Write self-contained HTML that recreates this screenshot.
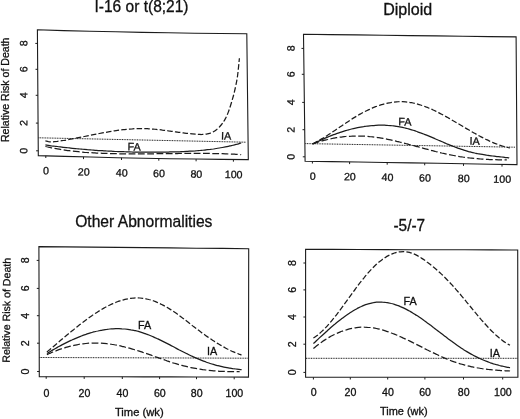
<!DOCTYPE html>
<html><head><meta charset="utf-8"><title>Figure</title>
<style>
html,body{margin:0;padding:0;background:#fff;}
svg{display:block;}
text{font-family:"Liberation Sans",sans-serif;fill:#111;stroke:#111;stroke-width:0.3px;}
</style></head><body>
<svg width="520" height="419" viewBox="0 0 520 419">
<rect x="0" y="0" width="520" height="419" fill="#fff"/>
<g style="opacity:0.999">
<polygon points="37.4,29.8 63.6,30.6 89.8,31.2 115.9,31.8 142.1,32.4 168.3,32.8 194.5,33.2 220.6,33.5 246.8,33.7 248.3,159.6 222.1,159.4 195.8,159.0 169.6,158.7 143.3,158.2 117.1,157.7 90.8,157.0 64.6,156.4 38.3,155.6" fill="none" stroke="#1c1c1c" stroke-width="1.10"/>
<line x1="35.3" y1="43.4" x2="37.5" y2="43.4" stroke="#1c1c1c" stroke-width="1.00"/>
<text x="27.3" y="43.4" font-size="10.6" text-anchor="middle" transform="rotate(-89.00 27.3 43.4)">8</text>
<line x1="35.5" y1="69.3" x2="37.7" y2="69.3" stroke="#1c1c1c" stroke-width="1.00"/>
<text x="27.3" y="69.3" font-size="10.6" text-anchor="middle" transform="rotate(-89.00 27.3 69.3)">6</text>
<line x1="35.7" y1="95.3" x2="37.9" y2="95.3" stroke="#1c1c1c" stroke-width="1.00"/>
<text x="27.3" y="95.3" font-size="10.6" text-anchor="middle" transform="rotate(-89.00 27.3 95.3)">4</text>
<line x1="35.9" y1="123.1" x2="38.1" y2="123.1" stroke="#1c1c1c" stroke-width="1.00"/>
<text x="27.3" y="123.1" font-size="10.6" text-anchor="middle" transform="rotate(-89.00 27.3 123.1)">2</text>
<line x1="36.1" y1="150.8" x2="38.3" y2="150.8" stroke="#1c1c1c" stroke-width="1.00"/>
<text x="27.3" y="150.8" font-size="10.6" text-anchor="middle" transform="rotate(-89.00 27.3 150.8)">0</text>
<line x1="45.8" y1="155.8" x2="45.8" y2="158.0" stroke="#1c1c1c" stroke-width="1.00"/>
<text x="46.0" y="174.4" font-size="10.6" text-anchor="middle" transform="rotate(1.00 46.0 174.4)">0</text>
<line x1="83.5" y1="156.9" x2="83.5" y2="159.1" stroke="#1c1c1c" stroke-width="1.00"/>
<text x="83.7" y="175.5" font-size="10.6" text-anchor="middle" transform="rotate(1.00 83.7 175.5)">20</text>
<line x1="121.5" y1="157.8" x2="121.5" y2="160.0" stroke="#1c1c1c" stroke-width="1.00"/>
<text x="121.7" y="176.4" font-size="10.6" text-anchor="middle" transform="rotate(1.00 121.7 176.4)">40</text>
<line x1="158.8" y1="158.5" x2="158.8" y2="160.7" stroke="#1c1c1c" stroke-width="1.00"/>
<text x="159.0" y="177.1" font-size="10.6" text-anchor="middle" transform="rotate(1.00 159.0 177.1)">60</text>
<line x1="196.1" y1="159.1" x2="196.1" y2="161.3" stroke="#1c1c1c" stroke-width="1.00"/>
<text x="196.3" y="177.7" font-size="10.6" text-anchor="middle" transform="rotate(1.00 196.3 177.7)">80</text>
<line x1="233.4" y1="159.5" x2="233.4" y2="161.7" stroke="#1c1c1c" stroke-width="1.00"/>
<text x="233.6" y="178.1" font-size="10.6" text-anchor="middle" transform="rotate(1.00 233.6 178.1)">100</text>
<text x="8.6" y="89.8" font-size="10.5" text-anchor="middle" transform="rotate(-90.00 8.6 89.8)" textLength="104.5" lengthAdjust="spacingAndGlyphs">Relative Risk of Death</text>
<text x="141.5" y="12.0" font-size="16.0" text-anchor="middle" textLength="94.0" lengthAdjust="spacingAndGlyphs">I-16 or t(8;21)</text>
<line x1="38.5" y1="137.8" x2="246.0" y2="142.2" stroke="#1c1c1c" stroke-width="1.00" stroke-dasharray="1 0.67"/>
<path d="M45.4 140.9 C45.9 141.0 47.4 141.4 48.4 141.6 C49.4 141.7 50.4 141.8 51.4 141.8 C52.4 141.8 53.4 141.8 54.4 141.7 C55.4 141.6 56.4 141.5 57.4 141.4 C58.4 141.2 59.4 141.1 60.4 140.9 C61.4 140.8 62.4 140.6 63.4 140.5 C64.4 140.3 65.4 140.1 66.4 140.0 C67.4 139.8 68.4 139.6 69.4 139.4 C70.4 139.3 71.4 139.1 72.4 138.9 C73.4 138.7 74.4 138.5 75.4 138.3 C76.4 138.1 77.4 137.9 78.4 137.7 C79.4 137.5 80.4 137.3 81.4 137.1 C82.4 136.9 83.4 136.7 84.4 136.5 C85.4 136.3 86.4 136.1 87.4 135.9 C88.4 135.7 89.4 135.5 90.4 135.3 C91.4 135.1 92.4 134.9 93.4 134.7 C94.4 134.5 95.4 134.3 96.4 134.1 C97.4 133.9 98.4 133.7 99.4 133.5 C100.4 133.3 101.4 133.1 102.4 132.9 C103.4 132.7 104.4 132.5 105.4 132.4 C106.4 132.2 107.4 132.0 108.4 131.8 C109.4 131.7 110.4 131.5 111.4 131.3 C112.4 131.2 113.4 131.0 114.4 130.8 C115.4 130.7 116.4 130.6 117.4 130.4 C118.4 130.3 119.4 130.1 120.4 130.0 C121.4 129.9 122.4 129.8 123.4 129.7 C124.4 129.5 125.4 129.4 126.4 129.3 C127.4 129.2 128.4 129.2 129.4 129.1 C130.4 129.0 131.4 128.9 132.4 128.9 C133.4 128.8 134.4 128.7 135.4 128.7 C136.4 128.7 137.4 128.6 138.4 128.6 C139.4 128.6 140.4 128.6 141.4 128.6 C142.4 128.6 143.4 128.6 144.4 128.6 C145.4 128.6 146.4 128.7 147.4 128.7 C148.4 128.8 149.4 128.8 150.4 128.9 C151.4 129.0 152.4 129.0 153.4 129.1 C154.4 129.2 155.4 129.3 156.4 129.4 C157.4 129.5 158.4 129.6 159.4 129.7 C160.4 129.8 161.4 129.9 162.4 130.1 C163.4 130.2 164.4 130.3 165.4 130.5 C166.4 130.6 167.4 130.7 168.4 130.9 C169.4 131.0 170.4 131.1 171.4 131.3 C172.4 131.4 173.4 131.6 174.4 131.7 C175.4 131.8 176.4 132.0 177.4 132.1 C178.4 132.3 179.4 132.4 180.4 132.5 C181.4 132.7 182.4 132.8 183.4 132.9 C184.4 133.1 185.4 133.2 186.4 133.3 C187.4 133.4 188.4 133.5 189.4 133.6 C190.4 133.7 191.4 133.8 192.4 133.9 C193.4 134.0 194.4 134.1 195.4 134.2 C196.4 134.2 197.4 134.3 198.4 134.4 C199.4 134.4 200.4 134.5 201.4 134.5 C202.4 134.4 203.4 134.4 204.4 134.3 C205.4 134.2 206.4 134.1 207.4 133.9 C208.4 133.7 209.4 133.4 210.4 133.1 C211.4 132.7 212.4 132.3 213.4 131.7 C214.4 131.1 215.4 130.5 216.4 129.7 C217.4 128.9 218.4 128.0 219.4 127.0 C220.4 125.9 221.4 124.8 222.4 123.4 C223.4 122.0 224.4 120.5 225.4 118.6 C226.4 116.7 227.4 114.5 228.4 111.9 C229.4 109.2 230.4 106.0 231.4 102.7 C232.4 99.3 233.4 96.2 234.4 91.9 C235.4 87.6 236.6 82.4 237.4 76.8 C238.2 71.2 239.1 61.3 239.4 58.2" fill="none" stroke="#1c1c1c" stroke-width="1.25" stroke-dasharray="5.5 2.2"/>
<path d="M45.4 144.9 C45.9 145.0 47.4 145.2 48.4 145.3 C49.4 145.5 50.4 145.6 51.4 145.8 C52.4 145.9 53.4 146.0 54.4 146.2 C55.4 146.3 56.4 146.4 57.4 146.5 C58.4 146.7 59.4 146.8 60.4 146.9 C61.4 147.0 62.4 147.2 63.4 147.3 C64.4 147.4 65.4 147.5 66.4 147.6 C67.4 147.7 68.4 147.8 69.4 147.9 C70.4 148.1 71.4 148.2 72.4 148.3 C73.4 148.4 74.4 148.5 75.4 148.6 C76.4 148.7 77.4 148.8 78.4 148.9 C79.4 149.0 80.4 149.0 81.4 149.1 C82.4 149.2 83.4 149.3 84.4 149.4 C85.4 149.5 86.4 149.6 87.4 149.7 C88.4 149.7 89.4 149.8 90.4 149.9 C91.4 150.0 92.4 150.0 93.4 150.1 C94.4 150.2 95.4 150.3 96.4 150.3 C97.4 150.4 98.4 150.5 99.4 150.5 C100.4 150.6 101.4 150.7 102.4 150.7 C103.4 150.8 104.4 150.8 105.4 150.9 C106.4 151.0 107.4 151.0 108.4 151.1 C109.4 151.1 110.4 151.2 111.4 151.2 C112.4 151.3 113.4 151.3 114.4 151.4 C115.4 151.4 116.4 151.4 117.4 151.5 C118.4 151.5 119.4 151.6 120.4 151.6 C121.4 151.6 122.4 151.7 123.4 151.7 C124.4 151.7 125.4 151.8 126.4 151.8 C127.4 151.8 128.4 151.9 129.4 151.9 C130.4 151.9 131.4 151.9 132.4 152.0 C133.4 152.0 134.4 152.0 135.4 152.0 C136.4 152.0 137.4 152.1 138.4 152.1 C139.4 152.1 140.4 152.1 141.4 152.1 C142.4 152.1 143.4 152.1 144.4 152.1 C145.4 152.1 146.4 152.1 147.4 152.2 C148.4 152.2 149.4 152.2 150.4 152.2 C151.4 152.2 152.4 152.2 153.4 152.2 C154.4 152.2 155.4 152.1 156.4 152.1 C157.4 152.1 158.4 152.1 159.4 152.1 C160.4 152.1 161.4 152.1 162.4 152.1 C163.4 152.1 164.4 152.1 165.4 152.0 C166.4 152.0 167.4 152.0 168.4 152.0 C169.4 152.0 170.4 151.9 171.4 151.9 C172.4 151.9 173.4 151.9 174.4 151.8 C175.4 151.8 176.4 151.8 177.4 151.8 C178.4 151.7 179.4 151.7 180.4 151.7 C181.4 151.6 182.4 151.6 183.4 151.5 C184.4 151.5 185.4 151.5 186.4 151.4 C187.4 151.4 188.4 151.3 189.4 151.2 C190.4 151.2 191.4 151.1 192.4 151.1 C193.4 151.0 194.4 150.9 195.4 150.9 C196.4 150.8 197.4 150.7 198.4 150.6 C199.4 150.5 200.4 150.5 201.4 150.4 C202.4 150.3 203.4 150.2 204.4 150.1 C205.4 150.0 206.4 149.8 207.4 149.7 C208.4 149.6 209.4 149.5 210.4 149.4 C211.4 149.2 212.4 149.1 213.4 149.0 C214.4 148.8 215.4 148.7 216.4 148.5 C217.4 148.4 218.4 148.2 219.4 148.0 C220.4 147.9 221.4 147.7 222.4 147.5 C223.4 147.3 224.4 147.1 225.4 146.9 C226.4 146.7 227.4 146.5 228.4 146.3 C229.4 146.1 230.4 145.8 231.4 145.6 C232.4 145.4 233.4 145.1 234.4 144.9 C235.4 144.6 236.4 144.3 237.4 144.1 C238.4 143.8 239.8 143.4 240.4 143.2 C241.0 143.0 241.1 143.0 241.2 143.0" fill="none" stroke="#1c1c1c" stroke-width="1.25"/>
<path d="M45.4 146.5 C45.9 146.6 47.4 146.9 48.4 147.2 C49.4 147.4 50.4 147.6 51.4 147.8 C52.4 148.0 53.4 148.2 54.4 148.4 C55.4 148.6 56.4 148.8 57.4 148.9 C58.4 149.1 59.4 149.3 60.4 149.4 C61.4 149.6 62.4 149.8 63.4 149.9 C64.4 150.1 65.4 150.2 66.4 150.3 C67.4 150.5 68.4 150.6 69.4 150.7 C70.4 150.9 71.4 151.0 72.4 151.1 C73.4 151.2 74.4 151.3 75.4 151.4 C76.4 151.5 77.4 151.6 78.4 151.7 C79.4 151.8 80.4 151.9 81.4 152.0 C82.4 152.1 83.4 152.2 84.4 152.3 C85.4 152.3 86.4 152.4 87.4 152.5 C88.4 152.5 89.4 152.6 90.4 152.7 C91.4 152.7 92.4 152.8 93.4 152.9 C94.4 152.9 95.4 153.0 96.4 153.0 C97.4 153.1 98.4 153.1 99.4 153.2 C100.4 153.2 101.4 153.2 102.4 153.3 C103.4 153.3 104.4 153.4 105.4 153.4 C106.4 153.4 107.4 153.5 108.4 153.5 C109.4 153.5 110.4 153.6 111.4 153.6 C112.4 153.6 113.4 153.6 114.4 153.7 C115.4 153.7 116.4 153.7 117.4 153.7 C118.4 153.7 119.4 153.8 120.4 153.8 C121.4 153.8 122.4 153.8 123.4 153.8 C124.4 153.8 125.4 153.8 126.4 153.8 C127.4 153.8 128.4 153.8 129.4 153.9 C130.4 153.9 131.4 153.9 132.4 153.9 C133.4 153.9 134.4 153.9 135.4 153.9 C136.4 153.9 137.4 153.9 138.4 153.9 C139.4 153.9 140.4 153.9 141.4 153.8 C142.4 153.8 143.4 153.8 144.4 153.8 C145.4 153.8 146.4 153.8 147.4 153.8 C148.4 153.8 149.4 153.8 150.4 153.8 C151.4 153.8 152.4 153.8 153.4 153.8 C154.4 153.7 155.4 153.7 156.4 153.7 C157.4 153.7 158.4 153.7 159.4 153.7 C160.4 153.7 161.4 153.7 162.4 153.6 C163.4 153.6 164.4 153.6 165.4 153.6 C166.4 153.6 167.4 153.6 168.4 153.6 C169.4 153.6 170.4 153.5 171.4 153.5 C172.4 153.5 173.4 153.5 174.4 153.5 C175.4 153.5 176.4 153.5 177.4 153.5 C178.4 153.5 179.4 153.4 180.4 153.4 C181.4 153.4 182.4 153.4 183.4 153.4 C184.4 153.4 185.4 153.4 186.4 153.4 C187.4 153.4 188.4 153.4 189.4 153.4 C190.4 153.4 191.4 153.4 192.4 153.4 C193.4 153.4 194.4 153.4 195.4 153.4 C196.4 153.4 197.4 153.4 198.4 153.4 C199.4 153.4 200.4 153.4 201.4 153.4 C202.4 153.4 203.4 153.4 204.4 153.4 C205.4 153.4 206.4 153.4 207.4 153.4 C208.4 153.4 209.4 153.4 210.4 153.5 C211.4 153.5 212.4 153.5 213.4 153.5 C214.4 153.5 215.4 153.6 216.4 153.6 C217.4 153.6 218.4 153.6 219.4 153.6 C220.4 153.7 221.4 153.7 222.4 153.7 C223.4 153.8 224.4 153.8 225.4 153.8 C226.4 153.9 227.4 153.9 228.4 154.0 C229.4 154.0 230.4 154.0 231.4 154.1 C232.4 154.1 233.4 154.2 234.4 154.2 C235.4 154.3 236.4 154.3 237.4 154.4 C238.4 154.4 239.9 154.5 240.4 154.6 C240.9 154.6 240.6 154.6 240.6 154.6" fill="none" stroke="#1c1c1c" stroke-width="1.25" stroke-dasharray="6.8 2.5"/>
<text x="134.1" y="150.4" font-size="10.8" text-anchor="middle" transform="rotate(1.00 134.1 150.4)">FA</text>
<text x="226.2" y="139.5" font-size="10.8" text-anchor="middle" transform="rotate(1.00 226.2 139.5)">IA</text>
<polygon points="303.5,34.3 330.1,34.6 356.6,34.9 383.2,35.3 409.8,35.6 436.4,35.9 463.0,36.2 489.5,36.6 516.1,36.9 517.0,164.6 490.5,164.2 464.0,163.8 437.5,163.3 411.1,162.9 384.6,162.5 358.1,162.0 331.6,161.6 305.1,161.2" fill="none" stroke="#1c1c1c" stroke-width="1.10"/>
<line x1="301.5" y1="48.4" x2="303.7" y2="48.4" stroke="#1c1c1c" stroke-width="1.00"/>
<text x="294.6" y="48.4" font-size="10.6" text-anchor="middle" transform="rotate(-89.10 294.6 48.4)">8</text>
<line x1="301.8" y1="74.3" x2="304.0" y2="74.3" stroke="#1c1c1c" stroke-width="1.00"/>
<text x="294.6" y="74.3" font-size="10.6" text-anchor="middle" transform="rotate(-89.10 294.6 74.3)">6</text>
<line x1="302.2" y1="102.4" x2="304.4" y2="102.4" stroke="#1c1c1c" stroke-width="1.00"/>
<text x="294.6" y="102.4" font-size="10.6" text-anchor="middle" transform="rotate(-89.10 294.6 102.4)">4</text>
<line x1="302.5" y1="129.7" x2="304.7" y2="129.7" stroke="#1c1c1c" stroke-width="1.00"/>
<text x="294.6" y="129.7" font-size="10.6" text-anchor="middle" transform="rotate(-89.10 294.6 129.7)">2</text>
<line x1="302.8" y1="156.8" x2="305.0" y2="156.8" stroke="#1c1c1c" stroke-width="1.00"/>
<text x="294.6" y="156.8" font-size="10.6" text-anchor="middle" transform="rotate(-89.10 294.6 156.8)">0</text>
<line x1="312.4" y1="161.3" x2="312.4" y2="163.5" stroke="#1c1c1c" stroke-width="1.00"/>
<text x="312.6" y="179.7" font-size="10.6" text-anchor="middle" transform="rotate(0.90 312.6 179.7)">0</text>
<line x1="349.6" y1="161.9" x2="349.6" y2="164.1" stroke="#1c1c1c" stroke-width="1.00"/>
<text x="349.8" y="180.3" font-size="10.6" text-anchor="middle" transform="rotate(0.90 349.8 180.3)">20</text>
<line x1="387.2" y1="162.5" x2="387.2" y2="164.7" stroke="#1c1c1c" stroke-width="1.00"/>
<text x="387.4" y="180.9" font-size="10.6" text-anchor="middle" transform="rotate(0.90 387.4 180.9)">40</text>
<line x1="424.7" y1="163.1" x2="424.7" y2="165.3" stroke="#1c1c1c" stroke-width="1.00"/>
<text x="424.9" y="181.5" font-size="10.6" text-anchor="middle" transform="rotate(0.90 424.9 181.5)">60</text>
<line x1="463.5" y1="163.7" x2="463.5" y2="165.9" stroke="#1c1c1c" stroke-width="1.00"/>
<text x="463.7" y="182.1" font-size="10.6" text-anchor="middle" transform="rotate(0.90 463.7 182.1)">80</text>
<line x1="502.0" y1="164.4" x2="502.0" y2="166.6" stroke="#1c1c1c" stroke-width="1.00"/>
<text x="502.2" y="182.8" font-size="10.6" text-anchor="middle" transform="rotate(0.90 502.2 182.8)">100</text>
<text x="407.7" y="15.0" font-size="16.0" text-anchor="middle" textLength="49.0" lengthAdjust="spacingAndGlyphs">Diploid</text>
<line x1="305.3" y1="143.6" x2="515.5" y2="147.2" stroke="#1c1c1c" stroke-width="1.00" stroke-dasharray="1 0.67"/>
<path d="M312.6 144.0 C313.1 143.7 314.6 143.0 315.6 142.4 C316.6 141.9 317.6 141.3 318.6 140.7 C319.6 140.1 320.6 139.5 321.6 138.9 C322.6 138.3 323.6 137.7 324.6 137.1 C325.6 136.5 326.6 135.8 327.6 135.2 C328.6 134.5 329.6 133.9 330.6 133.2 C331.6 132.6 332.6 131.9 333.6 131.2 C334.6 130.6 335.6 129.9 336.6 129.2 C337.6 128.6 338.6 127.9 339.6 127.2 C340.6 126.5 341.6 125.9 342.6 125.2 C343.6 124.5 344.6 123.8 345.6 123.2 C346.6 122.5 347.6 121.9 348.6 121.2 C349.6 120.6 350.6 119.9 351.6 119.3 C352.6 118.6 353.6 118.0 354.6 117.4 C355.6 116.8 356.6 116.2 357.6 115.6 C358.6 115.0 359.6 114.4 360.6 113.9 C361.6 113.3 362.6 112.8 363.6 112.2 C364.6 111.7 365.6 111.2 366.6 110.7 C367.6 110.2 368.6 109.7 369.6 109.3 C370.6 108.8 371.6 108.4 372.6 107.9 C373.6 107.5 374.6 107.1 375.6 106.7 C376.6 106.4 377.6 106.0 378.6 105.7 C379.6 105.3 380.6 105.0 381.6 104.7 C382.6 104.4 383.6 104.1 384.6 103.8 C385.6 103.6 386.6 103.4 387.6 103.1 C388.6 102.9 389.6 102.7 390.6 102.6 C391.6 102.4 392.6 102.3 393.6 102.1 C394.6 102.0 395.6 101.9 396.6 101.8 C397.6 101.8 398.6 101.7 399.6 101.7 C400.6 101.7 401.6 101.7 402.6 101.7 C403.6 101.7 404.6 101.8 405.6 101.9 C406.6 102.0 407.6 102.1 408.6 102.2 C409.6 102.3 410.6 102.5 411.6 102.7 C412.6 102.9 413.6 103.1 414.6 103.3 C415.6 103.6 416.6 103.8 417.6 104.1 C418.6 104.4 419.6 104.7 420.6 105.0 C421.6 105.3 422.6 105.7 423.6 106.0 C424.6 106.4 425.6 106.8 426.6 107.2 C427.6 107.5 428.6 108.0 429.6 108.4 C430.6 108.8 431.6 109.3 432.6 109.7 C433.6 110.2 434.6 110.7 435.6 111.1 C436.6 111.6 437.6 112.1 438.6 112.6 C439.6 113.2 440.6 113.7 441.6 114.2 C442.6 114.7 443.6 115.3 444.6 115.8 C445.6 116.4 446.6 116.9 447.6 117.5 C448.6 118.1 449.6 118.6 450.6 119.2 C451.6 119.8 452.6 120.4 453.6 121.0 C454.6 121.5 455.6 122.1 456.6 122.7 C457.6 123.3 458.6 123.9 459.6 124.5 C460.6 125.1 461.6 125.7 462.6 126.3 C463.6 126.9 464.6 127.5 465.6 128.1 C466.6 128.7 467.6 129.3 468.6 129.8 C469.6 130.4 470.6 131.0 471.6 131.6 C472.6 132.2 473.6 132.7 474.6 133.3 C475.6 133.9 476.6 134.4 477.6 135.0 C478.6 135.5 479.6 136.1 480.6 136.6 C481.6 137.1 482.6 137.6 483.6 138.2 C484.6 138.7 485.6 139.2 486.6 139.7 C487.6 140.1 488.6 140.6 489.6 141.1 C490.6 141.5 491.6 142.0 492.6 142.4 C493.6 142.8 494.6 143.3 495.6 143.6 C496.6 144.0 497.6 144.4 498.6 144.8 C499.6 145.1 500.6 145.5 501.6 145.8 C502.6 146.1 503.6 146.4 504.6 146.7 C505.6 147.0 506.7 147.3 507.6 147.5 C508.5 147.7 509.5 147.9 509.9 148.0" fill="none" stroke="#1c1c1c" stroke-width="1.25" stroke-dasharray="5.5 2.2"/>
<path d="M312.6 144.1 C313.1 143.8 314.6 143.1 315.6 142.6 C316.6 142.1 317.6 141.6 318.6 141.2 C319.6 140.7 320.6 140.2 321.6 139.8 C322.6 139.3 323.6 138.9 324.6 138.4 C325.6 138.0 326.6 137.6 327.6 137.1 C328.6 136.7 329.6 136.3 330.6 135.9 C331.6 135.5 332.6 135.1 333.6 134.7 C334.6 134.4 335.6 134.0 336.6 133.6 C337.6 133.3 338.6 132.9 339.6 132.6 C340.6 132.3 341.6 131.9 342.6 131.6 C343.6 131.3 344.6 131.0 345.6 130.7 C346.6 130.4 347.6 130.1 348.6 129.8 C349.6 129.6 350.6 129.3 351.6 129.0 C352.6 128.8 353.6 128.6 354.6 128.3 C355.6 128.1 356.6 127.9 357.6 127.7 C358.6 127.5 359.6 127.3 360.6 127.1 C361.6 126.9 362.6 126.7 363.6 126.6 C364.6 126.4 365.6 126.3 366.6 126.2 C367.6 126.0 368.6 125.9 369.6 125.8 C370.6 125.7 371.6 125.6 372.6 125.5 C373.6 125.5 374.6 125.4 375.6 125.3 C376.6 125.3 377.6 125.3 378.6 125.2 C379.6 125.2 380.6 125.2 381.6 125.2 C382.6 125.2 383.6 125.2 384.6 125.2 C385.6 125.3 386.6 125.3 387.6 125.4 C388.6 125.4 389.6 125.5 390.6 125.6 C391.6 125.7 392.6 125.8 393.6 125.9 C394.6 126.0 395.6 126.2 396.6 126.3 C397.6 126.5 398.6 126.7 399.6 126.8 C400.6 127.0 401.6 127.2 402.6 127.4 C403.6 127.6 404.6 127.9 405.6 128.1 C406.6 128.4 407.6 128.6 408.6 128.9 C409.6 129.2 410.6 129.5 411.6 129.8 C412.6 130.1 413.6 130.4 414.6 130.7 C415.6 131.1 416.6 131.4 417.6 131.8 C418.6 132.1 419.6 132.5 420.6 132.9 C421.6 133.2 422.6 133.6 423.6 134.0 C424.6 134.4 425.6 134.8 426.6 135.2 C427.6 135.6 428.6 136.0 429.6 136.4 C430.6 136.9 431.6 137.3 432.6 137.7 C433.6 138.1 434.6 138.5 435.6 139.0 C436.6 139.4 437.6 139.8 438.6 140.3 C439.6 140.7 440.6 141.1 441.6 141.5 C442.6 142.0 443.6 142.4 444.6 142.8 C445.6 143.2 446.6 143.7 447.6 144.1 C448.6 144.5 449.6 144.9 450.6 145.3 C451.6 145.7 452.6 146.1 453.6 146.5 C454.6 146.9 455.6 147.3 456.6 147.6 C457.6 148.0 458.6 148.4 459.6 148.7 C460.6 149.1 461.6 149.4 462.6 149.7 C463.6 150.1 464.6 150.4 465.6 150.7 C466.6 151.0 467.6 151.3 468.6 151.6 C469.6 151.8 470.6 152.1 471.6 152.3 C472.6 152.6 473.6 152.8 474.6 153.0 C475.6 153.2 476.6 153.5 477.6 153.7 C478.6 153.8 479.6 154.0 480.6 154.2 C481.6 154.4 482.6 154.6 483.6 154.7 C484.6 154.9 485.6 155.0 486.6 155.2 C487.6 155.3 488.6 155.5 489.6 155.6 C490.6 155.7 491.6 155.9 492.6 156.0 C493.6 156.1 494.6 156.2 495.6 156.3 C496.6 156.5 497.6 156.6 498.6 156.7 C499.6 156.8 500.6 156.9 501.6 157.0 C502.6 157.1 503.6 157.2 504.6 157.3 C505.6 157.5 506.8 157.6 507.6 157.7 C508.4 157.8 508.9 157.8 509.2 157.9" fill="none" stroke="#1c1c1c" stroke-width="1.25"/>
<path d="M312.6 143.8 C313.1 143.6 314.6 143.1 315.6 142.8 C316.6 142.5 317.6 142.2 318.6 141.9 C319.6 141.6 320.6 141.3 321.6 141.0 C322.6 140.7 323.6 140.5 324.6 140.2 C325.6 140.0 326.6 139.7 327.6 139.5 C328.6 139.2 329.6 139.0 330.6 138.8 C331.6 138.6 332.6 138.4 333.6 138.2 C334.6 138.0 335.6 137.9 336.6 137.7 C337.6 137.5 338.6 137.4 339.6 137.2 C340.6 137.1 341.6 137.0 342.6 136.8 C343.6 136.7 344.6 136.6 345.6 136.5 C346.6 136.4 347.6 136.3 348.6 136.3 C349.6 136.2 350.6 136.1 351.6 136.1 C352.6 136.0 353.6 136.0 354.6 136.0 C355.6 136.0 356.6 136.0 357.6 136.0 C358.6 136.0 359.6 136.0 360.6 136.0 C361.6 136.0 362.6 136.1 363.6 136.1 C364.6 136.2 365.6 136.2 366.6 136.3 C367.6 136.4 368.6 136.5 369.6 136.6 C370.6 136.7 371.6 136.8 372.6 136.9 C373.6 137.0 374.6 137.1 375.6 137.3 C376.6 137.4 377.6 137.5 378.6 137.7 C379.6 137.9 380.6 138.0 381.6 138.2 C382.6 138.4 383.6 138.5 384.6 138.7 C385.6 138.9 386.6 139.1 387.6 139.3 C388.6 139.5 389.6 139.7 390.6 139.9 C391.6 140.2 392.6 140.4 393.6 140.6 C394.6 140.8 395.6 141.1 396.6 141.3 C397.6 141.5 398.6 141.8 399.6 142.0 C400.6 142.3 401.6 142.5 402.6 142.8 C403.6 143.0 404.6 143.3 405.6 143.5 C406.6 143.8 407.6 144.0 408.6 144.3 C409.6 144.6 410.6 144.8 411.6 145.1 C412.6 145.4 413.6 145.6 414.6 145.9 C415.6 146.2 416.6 146.4 417.6 146.7 C418.6 147.0 419.6 147.3 420.6 147.5 C421.6 147.8 422.6 148.1 423.6 148.3 C424.6 148.6 425.6 148.9 426.6 149.1 C427.6 149.4 428.6 149.7 429.6 149.9 C430.6 150.2 431.6 150.5 432.6 150.7 C433.6 151.0 434.6 151.2 435.6 151.5 C436.6 151.7 437.6 152.0 438.6 152.2 C439.6 152.5 440.6 152.7 441.6 153.0 C442.6 153.2 443.6 153.4 444.6 153.6 C445.6 153.9 446.6 154.1 447.6 154.3 C448.6 154.5 449.6 154.7 450.6 154.9 C451.6 155.1 452.6 155.3 453.6 155.5 C454.6 155.7 455.6 155.9 456.6 156.1 C457.6 156.2 458.6 156.4 459.6 156.6 C460.6 156.7 461.6 156.9 462.6 157.0 C463.6 157.2 464.6 157.3 465.6 157.4 C466.6 157.6 467.6 157.7 468.6 157.8 C469.6 157.9 470.6 158.1 471.6 158.2 C472.6 158.3 473.6 158.4 474.6 158.5 C475.6 158.6 476.6 158.7 477.6 158.7 C478.6 158.8 479.6 158.9 480.6 159.0 C481.6 159.1 482.6 159.1 483.6 159.2 C484.6 159.3 485.6 159.3 486.6 159.4 C487.6 159.4 488.6 159.5 489.6 159.5 C490.6 159.6 491.6 159.6 492.6 159.6 C493.6 159.7 494.6 159.7 495.6 159.7 C496.6 159.8 497.6 159.8 498.6 159.8 C499.6 159.8 500.6 159.9 501.6 159.9 C502.6 159.9 503.7 159.9 504.6 159.9 C505.5 159.9 506.4 159.9 506.8 159.9" fill="none" stroke="#1c1c1c" stroke-width="1.25" stroke-dasharray="6.8 2.5"/>
<text x="404.9" y="125.4" font-size="10.8" text-anchor="middle" transform="rotate(0.90 404.9 125.4)">FA</text>
<text x="474.7" y="144.7" font-size="10.8" text-anchor="middle" transform="rotate(0.90 474.7 144.7)">IA</text>
<polygon points="38.9,246.6 65.1,246.9 91.3,247.1 117.6,247.4 143.8,247.6 170.0,247.9 196.2,248.2 222.5,248.4 248.7,248.7 248.5,377.1 222.3,377.0 196.2,377.0 170.1,376.9 143.9,376.9 117.8,376.8 91.6,376.7 65.5,376.7 39.3,376.6" fill="none" stroke="#1c1c1c" stroke-width="1.10"/>
<line x1="36.7" y1="260.4" x2="38.9" y2="260.4" stroke="#1c1c1c" stroke-width="1.00"/>
<text x="28.9" y="260.4" font-size="10.6" text-anchor="middle" transform="rotate(-90.00 28.9 260.4)">8</text>
<line x1="36.8" y1="288.4" x2="39.0" y2="288.4" stroke="#1c1c1c" stroke-width="1.00"/>
<text x="28.9" y="288.4" font-size="10.6" text-anchor="middle" transform="rotate(-90.00 28.9 288.4)">6</text>
<line x1="36.9" y1="315.7" x2="39.1" y2="315.7" stroke="#1c1c1c" stroke-width="1.00"/>
<text x="28.9" y="315.7" font-size="10.6" text-anchor="middle" transform="rotate(-90.00 28.9 315.7)">4</text>
<line x1="37.0" y1="343.2" x2="39.2" y2="343.2" stroke="#1c1c1c" stroke-width="1.00"/>
<text x="28.9" y="343.2" font-size="10.6" text-anchor="middle" transform="rotate(-90.00 28.9 343.2)">2</text>
<line x1="37.1" y1="371.5" x2="39.3" y2="371.5" stroke="#1c1c1c" stroke-width="1.00"/>
<text x="28.9" y="371.5" font-size="10.6" text-anchor="middle" transform="rotate(-90.00 28.9 371.5)">0</text>
<line x1="46.2" y1="376.6" x2="46.2" y2="378.8" stroke="#1c1c1c" stroke-width="1.00"/>
<text x="46.4" y="396.5" font-size="10.6" text-anchor="middle">0</text>
<line x1="84.2" y1="376.7" x2="84.2" y2="378.9" stroke="#1c1c1c" stroke-width="1.00"/>
<text x="84.4" y="396.6" font-size="10.6" text-anchor="middle">20</text>
<line x1="122.3" y1="376.8" x2="122.3" y2="379.0" stroke="#1c1c1c" stroke-width="1.00"/>
<text x="122.5" y="396.7" font-size="10.6" text-anchor="middle">40</text>
<line x1="159.6" y1="376.9" x2="159.6" y2="379.1" stroke="#1c1c1c" stroke-width="1.00"/>
<text x="159.8" y="396.8" font-size="10.6" text-anchor="middle">60</text>
<line x1="196.5" y1="377.0" x2="196.5" y2="379.2" stroke="#1c1c1c" stroke-width="1.00"/>
<text x="196.7" y="396.9" font-size="10.6" text-anchor="middle">80</text>
<line x1="234.2" y1="377.1" x2="234.2" y2="379.3" stroke="#1c1c1c" stroke-width="1.00"/>
<text x="234.4" y="397.0" font-size="10.6" text-anchor="middle">100</text>
<text x="10.1" y="310.3" font-size="10.5" text-anchor="middle" transform="rotate(-89.50 10.1 310.3)" textLength="104.9" lengthAdjust="spacingAndGlyphs">Relative Risk of Death</text>
<text x="143.8" y="227.0" font-size="16.3" text-anchor="middle" textLength="137.3" lengthAdjust="spacingAndGlyphs">Other Abnormalities</text>
<text x="139.3" y="415.8" font-size="10.6" text-anchor="middle" textLength="48.7" lengthAdjust="spacingAndGlyphs">Time (wk)</text>
<line x1="39.5" y1="357.5" x2="248.0" y2="358.2" stroke="#1c1c1c" stroke-width="1.00" stroke-dasharray="1 0.67"/>
<path d="M46.9 352.0 C47.4 351.5 48.9 350.3 49.9 349.5 C50.9 348.6 51.9 347.8 52.9 346.9 C53.9 346.1 54.9 345.2 55.9 344.4 C56.9 343.6 57.9 342.7 58.9 341.9 C59.9 341.0 60.9 340.2 61.9 339.3 C62.9 338.5 63.9 337.6 64.9 336.8 C65.9 336.0 66.9 335.1 67.9 334.3 C68.9 333.5 69.9 332.6 70.9 331.8 C71.9 331.0 72.9 330.2 73.9 329.4 C74.9 328.5 75.9 327.7 76.9 326.9 C77.9 326.1 78.9 325.4 79.9 324.6 C80.9 323.8 81.9 323.0 82.9 322.3 C83.9 321.5 84.9 320.7 85.9 320.0 C86.9 319.3 87.9 318.5 88.9 317.8 C89.9 317.1 90.9 316.4 91.9 315.7 C92.9 315.0 93.9 314.3 94.9 313.7 C95.9 313.0 96.9 312.4 97.9 311.7 C98.9 311.1 99.9 310.5 100.9 309.9 C101.9 309.3 102.9 308.7 103.9 308.1 C104.9 307.6 105.9 307.0 106.9 306.5 C107.9 306.0 108.9 305.5 109.9 305.0 C110.9 304.5 111.9 304.0 112.9 303.6 C113.9 303.2 114.9 302.7 115.9 302.3 C116.9 301.9 117.9 301.6 118.9 301.2 C119.9 300.9 120.9 300.5 121.9 300.3 C122.9 300.0 123.9 299.7 124.9 299.4 C125.9 299.2 126.9 299.0 127.9 298.8 C128.9 298.6 129.9 298.4 130.9 298.3 C131.9 298.2 132.9 298.1 133.9 298.0 C134.9 298.0 135.9 297.9 136.9 297.9 C137.9 297.9 138.9 297.9 139.9 298.0 C140.9 298.1 141.9 298.2 142.9 298.3 C143.9 298.4 144.9 298.6 145.9 298.8 C146.9 299.0 147.9 299.2 148.9 299.5 C149.9 299.7 150.9 300.0 151.9 300.4 C152.9 300.7 153.9 301.0 154.9 301.4 C155.9 301.8 156.9 302.2 157.9 302.7 C158.9 303.1 159.9 303.6 160.9 304.1 C161.9 304.5 162.9 305.1 163.9 305.6 C164.9 306.1 165.9 306.7 166.9 307.3 C167.9 307.9 168.9 308.5 169.9 309.1 C170.9 309.7 171.9 310.4 172.9 311.1 C173.9 311.7 174.9 312.4 175.9 313.1 C176.9 313.8 177.9 314.5 178.9 315.3 C179.9 316.0 180.9 316.7 181.9 317.5 C182.9 318.2 183.9 319.0 184.9 319.8 C185.9 320.5 186.9 321.3 187.9 322.1 C188.9 322.9 189.9 323.6 190.9 324.4 C191.9 325.2 192.9 326.0 193.9 326.7 C194.9 327.5 195.9 328.3 196.9 329.0 C197.9 329.8 198.9 330.6 199.9 331.3 C200.9 332.0 201.9 332.8 202.9 333.5 C203.9 334.2 204.9 335.0 205.9 335.7 C206.9 336.4 207.9 337.1 208.9 337.8 C209.9 338.5 210.9 339.1 211.9 339.8 C212.9 340.5 213.9 341.1 214.9 341.8 C215.9 342.4 216.9 343.0 217.9 343.6 C218.9 344.3 219.9 344.9 220.9 345.4 C221.9 346.0 222.9 346.6 223.9 347.1 C224.9 347.7 225.9 348.2 226.9 348.8 C227.9 349.3 228.9 349.8 229.9 350.3 C230.9 350.7 231.9 351.2 232.9 351.7 C233.9 352.1 234.9 352.5 235.9 352.9 C236.9 353.3 238.0 353.7 238.9 354.1 C239.8 354.4 241.2 354.9 241.6 355.0" fill="none" stroke="#1c1c1c" stroke-width="1.25" stroke-dasharray="5.5 2.2"/>
<path d="M46.9 353.6 C47.4 353.2 48.9 352.3 49.9 351.7 C50.9 351.1 51.9 350.5 52.9 349.9 C53.9 349.4 54.9 348.8 55.9 348.2 C56.9 347.6 57.9 347.1 58.9 346.5 C59.9 346.0 60.9 345.5 61.9 344.9 C62.9 344.4 63.9 343.9 64.9 343.4 C65.9 342.9 66.9 342.4 67.9 341.9 C68.9 341.4 69.9 340.9 70.9 340.4 C71.9 340.0 72.9 339.5 73.9 339.1 C74.9 338.6 75.9 338.2 76.9 337.8 C77.9 337.4 78.9 337.0 79.9 336.6 C80.9 336.2 81.9 335.8 82.9 335.4 C83.9 335.1 84.9 334.7 85.9 334.4 C86.9 334.0 87.9 333.7 88.9 333.4 C89.9 333.1 90.9 332.8 91.9 332.5 C92.9 332.2 93.9 331.9 94.9 331.7 C95.9 331.4 96.9 331.2 97.9 331.0 C98.9 330.7 99.9 330.5 100.9 330.3 C101.9 330.1 102.9 330.0 103.9 329.8 C104.9 329.6 105.9 329.5 106.9 329.4 C107.9 329.2 108.9 329.1 109.9 329.0 C110.9 328.9 111.9 328.9 112.9 328.8 C113.9 328.7 114.9 328.7 115.9 328.7 C116.9 328.7 117.9 328.7 118.9 328.7 C119.9 328.7 120.9 328.7 121.9 328.8 C122.9 328.8 123.9 328.9 124.9 329.0 C125.9 329.1 126.9 329.2 127.9 329.3 C128.9 329.4 129.9 329.6 130.9 329.8 C131.9 329.9 132.9 330.1 133.9 330.3 C134.9 330.5 135.9 330.8 136.9 331.0 C137.9 331.3 138.9 331.6 139.9 331.9 C140.9 332.2 141.9 332.5 142.9 332.8 C143.9 333.1 144.9 333.5 145.9 333.9 C146.9 334.2 147.9 334.6 148.9 335.0 C149.9 335.4 150.9 335.8 151.9 336.2 C152.9 336.7 153.9 337.1 154.9 337.6 C155.9 338.0 156.9 338.5 157.9 338.9 C158.9 339.4 159.9 339.9 160.9 340.4 C161.9 340.9 162.9 341.4 163.9 341.9 C164.9 342.4 165.9 342.9 166.9 343.4 C167.9 343.9 168.9 344.4 169.9 344.9 C170.9 345.5 171.9 346.0 172.9 346.5 C173.9 347.0 174.9 347.6 175.9 348.1 C176.9 348.6 177.9 349.1 178.9 349.7 C179.9 350.2 180.9 350.7 181.9 351.2 C182.9 351.7 183.9 352.2 184.9 352.7 C185.9 353.3 186.9 353.8 187.9 354.2 C188.9 354.7 189.9 355.2 190.9 355.7 C191.9 356.2 192.9 356.6 193.9 357.1 C194.9 357.6 195.9 358.0 196.9 358.4 C197.9 358.9 198.9 359.3 199.9 359.7 C200.9 360.1 201.9 360.5 202.9 360.9 C203.9 361.3 204.9 361.6 205.9 362.0 C206.9 362.4 207.9 362.7 208.9 363.0 C209.9 363.4 210.9 363.7 211.9 364.0 C212.9 364.3 213.9 364.6 214.9 364.9 C215.9 365.2 216.9 365.4 217.9 365.7 C218.9 366.0 219.9 366.2 220.9 366.4 C221.9 366.7 222.9 366.9 223.9 367.1 C224.9 367.3 225.9 367.5 226.9 367.7 C227.9 367.9 228.9 368.0 229.9 368.2 C230.9 368.4 231.9 368.5 232.9 368.7 C233.9 368.8 234.9 368.9 235.9 369.0 C236.9 369.1 238.0 369.2 238.9 369.3 C239.8 369.4 241.2 369.5 241.6 369.5" fill="none" stroke="#1c1c1c" stroke-width="1.25"/>
<path d="M46.9 354.7 C47.4 354.4 48.9 353.8 49.9 353.3 C50.9 352.9 51.9 352.5 52.9 352.0 C53.9 351.6 54.9 351.2 55.9 350.9 C56.9 350.5 57.9 350.1 58.9 349.7 C59.9 349.4 60.9 349.0 61.9 348.7 C62.9 348.4 63.9 348.1 64.9 347.8 C65.9 347.4 66.9 347.2 67.9 346.9 C68.9 346.6 69.9 346.3 70.9 346.1 C71.9 345.8 72.9 345.6 73.9 345.4 C74.9 345.2 75.9 345.0 76.9 344.8 C77.9 344.6 78.9 344.4 79.9 344.2 C80.9 344.1 81.9 343.9 82.9 343.8 C83.9 343.7 84.9 343.6 85.9 343.5 C86.9 343.4 87.9 343.3 88.9 343.2 C89.9 343.1 90.9 343.1 91.9 343.0 C92.9 343.0 93.9 343.0 94.9 343.0 C95.9 343.0 96.9 343.0 97.9 343.0 C98.9 343.1 99.9 343.1 100.9 343.2 C101.9 343.2 102.9 343.3 103.9 343.4 C104.9 343.5 105.9 343.6 106.9 343.7 C107.9 343.8 108.9 343.9 109.9 344.0 C110.9 344.2 111.9 344.3 112.9 344.5 C113.9 344.7 114.9 344.8 115.9 345.0 C116.9 345.2 117.9 345.4 118.9 345.6 C119.9 345.8 120.9 346.1 121.9 346.3 C122.9 346.5 123.9 346.8 124.9 347.0 C125.9 347.3 126.9 347.5 127.9 347.8 C128.9 348.1 129.9 348.3 130.9 348.6 C131.9 348.9 132.9 349.2 133.9 349.5 C134.9 349.8 135.9 350.1 136.9 350.4 C137.9 350.7 138.9 351.1 139.9 351.4 C140.9 351.7 141.9 352.0 142.9 352.4 C143.9 352.7 144.9 353.1 145.9 353.4 C146.9 353.7 147.9 354.1 148.9 354.4 C149.9 354.8 150.9 355.1 151.9 355.5 C152.9 355.9 153.9 356.2 154.9 356.6 C155.9 356.9 156.9 357.3 157.9 357.6 C158.9 358.0 159.9 358.3 160.9 358.7 C161.9 359.0 162.9 359.4 163.9 359.7 C164.9 360.1 165.9 360.4 166.9 360.8 C167.9 361.1 168.9 361.4 169.9 361.8 C170.9 362.1 171.9 362.4 172.9 362.8 C173.9 363.1 174.9 363.4 175.9 363.7 C176.9 364.0 177.9 364.3 178.9 364.6 C179.9 364.9 180.9 365.2 181.9 365.4 C182.9 365.7 183.9 366.0 184.9 366.2 C185.9 366.5 186.9 366.7 187.9 366.9 C188.9 367.2 189.9 367.4 190.9 367.6 C191.9 367.8 192.9 368.0 193.9 368.2 C194.9 368.4 195.9 368.6 196.9 368.7 C197.9 368.9 198.9 369.1 199.9 369.2 C200.9 369.4 201.9 369.5 202.9 369.7 C203.9 369.8 204.9 369.9 205.9 370.0 C206.9 370.2 207.9 370.3 208.9 370.4 C209.9 370.5 210.9 370.6 211.9 370.7 C212.9 370.8 213.9 370.8 214.9 370.9 C215.9 371.0 216.9 371.1 217.9 371.1 C218.9 371.2 219.9 371.3 220.9 371.3 C221.9 371.4 222.9 371.4 223.9 371.4 C224.9 371.5 225.9 371.5 226.9 371.6 C227.9 371.6 228.9 371.6 229.9 371.6 C230.9 371.6 231.9 371.7 232.9 371.7 C233.9 371.7 234.9 371.7 235.9 371.7 C236.9 371.7 238.4 371.7 238.9 371.7 C239.4 371.7 239.1 371.7 239.2 371.7" fill="none" stroke="#1c1c1c" stroke-width="1.25" stroke-dasharray="6.8 2.5"/>
<text x="144.6" y="328.6" font-size="10.8" text-anchor="middle">FA</text>
<text x="212.1" y="355.2" font-size="10.8" text-anchor="middle">IA</text>
<polygon points="305.6,249.3 332.1,249.4 358.6,249.5 385.1,249.6 411.7,249.7 438.2,249.7 464.7,249.8 491.2,249.9 517.7,250.0 517.9,377.3 491.4,377.3 464.8,377.3 438.3,377.3 411.8,377.3 385.2,377.3 358.7,377.3 332.1,377.3 305.6,377.3" fill="none" stroke="#1c1c1c" stroke-width="1.10"/>
<line x1="303.4" y1="263.0" x2="305.6" y2="263.0" stroke="#1c1c1c" stroke-width="1.00"/>
<text x="295.9" y="263.0" font-size="10.6" text-anchor="middle" transform="rotate(-90.00 295.9 263.0)">8</text>
<line x1="303.4" y1="289.9" x2="305.6" y2="289.9" stroke="#1c1c1c" stroke-width="1.00"/>
<text x="295.9" y="289.9" font-size="10.6" text-anchor="middle" transform="rotate(-90.00 295.9 289.9)">6</text>
<line x1="303.4" y1="317.0" x2="305.6" y2="317.0" stroke="#1c1c1c" stroke-width="1.00"/>
<text x="295.9" y="317.0" font-size="10.6" text-anchor="middle" transform="rotate(-90.00 295.9 317.0)">4</text>
<line x1="303.4" y1="344.2" x2="305.6" y2="344.2" stroke="#1c1c1c" stroke-width="1.00"/>
<text x="295.9" y="344.2" font-size="10.6" text-anchor="middle" transform="rotate(-90.00 295.9 344.2)">2</text>
<line x1="303.4" y1="372.4" x2="305.6" y2="372.4" stroke="#1c1c1c" stroke-width="1.00"/>
<text x="295.9" y="372.4" font-size="10.6" text-anchor="middle" transform="rotate(-90.00 295.9 372.4)">0</text>
<line x1="313.4" y1="377.3" x2="313.4" y2="379.5" stroke="#1c1c1c" stroke-width="1.00"/>
<text x="313.6" y="396.4" font-size="10.6" text-anchor="middle">0</text>
<line x1="350.3" y1="377.3" x2="350.3" y2="379.5" stroke="#1c1c1c" stroke-width="1.00"/>
<text x="350.5" y="396.4" font-size="10.6" text-anchor="middle">20</text>
<line x1="387.7" y1="377.3" x2="387.7" y2="379.5" stroke="#1c1c1c" stroke-width="1.00"/>
<text x="387.9" y="396.4" font-size="10.6" text-anchor="middle">40</text>
<line x1="424.9" y1="377.3" x2="424.9" y2="379.5" stroke="#1c1c1c" stroke-width="1.00"/>
<text x="425.1" y="396.4" font-size="10.6" text-anchor="middle">60</text>
<line x1="463.5" y1="377.3" x2="463.5" y2="379.5" stroke="#1c1c1c" stroke-width="1.00"/>
<text x="463.7" y="396.4" font-size="10.6" text-anchor="middle">80</text>
<line x1="502.7" y1="377.3" x2="502.7" y2="379.5" stroke="#1c1c1c" stroke-width="1.00"/>
<text x="502.9" y="396.4" font-size="10.6" text-anchor="middle">100</text>
<text x="409.3" y="230.5" font-size="16.0" text-anchor="middle" textLength="31.6" lengthAdjust="spacingAndGlyphs">-5/-7</text>
<text x="403.8" y="415.3" font-size="10.6" text-anchor="middle" textLength="47.7" lengthAdjust="spacingAndGlyphs">Time (wk)</text>
<line x1="306.0" y1="358.3" x2="517.5" y2="358.3" stroke="#1c1c1c" stroke-width="1.00" stroke-dasharray="1 0.67"/>
<path d="M313.4 338.0 C313.9 337.7 315.4 336.7 316.4 336.0 C317.4 335.3 318.4 334.5 319.4 333.6 C320.4 332.8 321.4 331.9 322.4 330.9 C323.4 330.0 324.4 329.0 325.4 327.9 C326.4 326.9 327.4 325.8 328.4 324.6 C329.4 323.5 330.4 322.3 331.4 321.1 C332.4 319.9 333.4 318.7 334.4 317.4 C335.4 316.2 336.4 314.9 337.4 313.6 C338.4 312.3 339.4 310.9 340.4 309.6 C341.4 308.3 342.4 306.9 343.4 305.5 C344.4 304.2 345.4 302.8 346.4 301.4 C347.4 300.0 348.4 298.6 349.4 297.2 C350.4 295.8 351.4 294.5 352.4 293.1 C353.4 291.7 354.4 290.3 355.4 289.0 C356.4 287.6 357.4 286.3 358.4 284.9 C359.4 283.6 360.4 282.3 361.4 281.0 C362.4 279.7 363.4 278.5 364.4 277.3 C365.4 276.0 366.4 274.8 367.4 273.7 C368.4 272.5 369.4 271.4 370.4 270.3 C371.4 269.2 372.4 268.2 373.4 267.2 C374.4 266.2 375.4 265.2 376.4 264.3 C377.4 263.4 378.4 262.5 379.4 261.7 C380.4 260.9 381.4 260.1 382.4 259.4 C383.4 258.7 384.4 258.0 385.4 257.4 C386.4 256.7 387.4 256.1 388.4 255.6 C389.4 255.1 390.4 254.6 391.4 254.2 C392.4 253.7 393.4 253.4 394.4 253.0 C395.4 252.7 396.4 252.5 397.4 252.2 C398.4 252.0 399.4 251.9 400.4 251.8 C401.4 251.7 402.4 251.6 403.4 251.6 C404.4 251.6 405.4 251.7 406.4 251.8 C407.4 252.0 408.4 252.2 409.4 252.4 C410.4 252.7 411.4 253.0 412.4 253.4 C413.4 253.7 414.4 254.2 415.4 254.6 C416.4 255.1 417.4 255.7 418.4 256.2 C419.4 256.8 420.4 257.4 421.4 258.1 C422.4 258.7 423.4 259.4 424.4 260.1 C425.4 260.8 426.4 261.5 427.4 262.3 C428.4 263.0 429.4 263.8 430.4 264.6 C431.4 265.4 432.4 266.2 433.4 267.0 C434.4 267.8 435.4 268.7 436.4 269.5 C437.4 270.4 438.4 271.3 439.4 272.2 C440.4 273.1 441.4 274.1 442.4 275.0 C443.4 276.0 444.4 277.0 445.4 278.0 C446.4 279.0 447.4 280.0 448.4 281.1 C449.4 282.1 450.4 283.2 451.4 284.3 C452.4 285.3 453.4 286.5 454.4 287.6 C455.4 288.7 456.4 289.9 457.4 291.0 C458.4 292.2 459.4 293.4 460.4 294.5 C461.4 295.7 462.4 296.9 463.4 298.1 C464.4 299.3 465.4 300.6 466.4 301.8 C467.4 303.0 468.4 304.2 469.4 305.4 C470.4 306.6 471.4 307.9 472.4 309.1 C473.4 310.3 474.4 311.5 475.4 312.7 C476.4 313.9 477.4 315.1 478.4 316.3 C479.4 317.5 480.4 318.6 481.4 319.8 C482.4 320.9 483.4 322.1 484.4 323.2 C485.4 324.3 486.4 325.4 487.4 326.5 C488.4 327.6 489.4 328.6 490.4 329.7 C491.4 330.7 492.4 331.7 493.4 332.6 C494.4 333.6 495.4 334.6 496.4 335.5 C497.4 336.4 498.4 337.2 499.4 338.1 C500.4 338.9 501.4 339.7 502.4 340.4 C503.4 341.2 504.4 341.9 505.4 342.5 C506.4 343.2 507.6 343.9 508.4 344.4 C509.2 344.8 509.7 345.1 510.0 345.2" fill="none" stroke="#1c1c1c" stroke-width="1.25" stroke-dasharray="5.5 2.2"/>
<path d="M313.4 343.5 C313.9 343.1 315.4 341.7 316.4 340.7 C317.4 339.8 318.4 338.9 319.4 337.9 C320.4 337.0 321.4 336.1 322.4 335.2 C323.4 334.3 324.4 333.4 325.4 332.5 C326.4 331.5 327.4 330.7 328.4 329.8 C329.4 328.9 330.4 328.0 331.4 327.1 C332.4 326.3 333.4 325.4 334.4 324.6 C335.4 323.7 336.4 322.9 337.4 322.1 C338.4 321.3 339.4 320.5 340.4 319.7 C341.4 318.9 342.4 318.2 343.4 317.4 C344.4 316.7 345.4 316.0 346.4 315.3 C347.4 314.6 348.4 313.9 349.4 313.2 C350.4 312.6 351.4 311.9 352.4 311.3 C353.4 310.7 354.4 310.1 355.4 309.5 C356.4 309.0 357.4 308.4 358.4 307.9 C359.4 307.4 360.4 306.9 361.4 306.5 C362.4 306.0 363.4 305.6 364.4 305.2 C365.4 304.8 366.4 304.5 367.4 304.2 C368.4 303.8 369.4 303.6 370.4 303.3 C371.4 303.1 372.4 302.8 373.4 302.7 C374.4 302.5 375.4 302.3 376.4 302.2 C377.4 302.1 378.4 302.1 379.4 302.1 C380.4 302.0 381.4 302.0 382.4 302.1 C383.4 302.1 384.4 302.2 385.4 302.4 C386.4 302.5 387.4 302.6 388.4 302.8 C389.4 303.0 390.4 303.2 391.4 303.5 C392.4 303.7 393.4 304.0 394.4 304.3 C395.4 304.6 396.4 305.0 397.4 305.4 C398.4 305.7 399.4 306.1 400.4 306.6 C401.4 307.0 402.4 307.4 403.4 307.9 C404.4 308.4 405.4 308.9 406.4 309.4 C407.4 309.9 408.4 310.4 409.4 311.0 C410.4 311.6 411.4 312.1 412.4 312.7 C413.4 313.3 414.4 314.0 415.4 314.6 C416.4 315.2 417.4 315.9 418.4 316.5 C419.4 317.2 420.4 317.9 421.4 318.6 C422.4 319.3 423.4 320.0 424.4 320.7 C425.4 321.4 426.4 322.1 427.4 322.9 C428.4 323.6 429.4 324.4 430.4 325.1 C431.4 325.9 432.4 326.6 433.4 327.4 C434.4 328.1 435.4 328.9 436.4 329.7 C437.4 330.4 438.4 331.2 439.4 332.0 C440.4 332.7 441.4 333.5 442.4 334.3 C443.4 335.1 444.4 335.8 445.4 336.6 C446.4 337.4 447.4 338.1 448.4 338.9 C449.4 339.6 450.4 340.4 451.4 341.1 C452.4 341.9 453.4 342.6 454.4 343.3 C455.4 344.0 456.4 344.7 457.4 345.4 C458.4 346.1 459.4 346.8 460.4 347.5 C461.4 348.2 462.4 348.8 463.4 349.5 C464.4 350.1 465.4 350.8 466.4 351.4 C467.4 352.0 468.4 352.6 469.4 353.1 C470.4 353.7 471.4 354.3 472.4 354.8 C473.4 355.4 474.4 355.9 475.4 356.4 C476.4 356.9 477.4 357.4 478.4 357.9 C479.4 358.3 480.4 358.8 481.4 359.2 C482.4 359.7 483.4 360.1 484.4 360.5 C485.4 360.9 486.4 361.3 487.4 361.7 C488.4 362.1 489.4 362.4 490.4 362.8 C491.4 363.1 492.4 363.4 493.4 363.8 C494.4 364.1 495.4 364.4 496.4 364.7 C497.4 364.9 498.4 365.2 499.4 365.5 C500.4 365.7 501.4 366.0 502.4 366.2 C503.4 366.4 504.4 366.6 505.4 366.8 C506.4 367.0 507.6 367.3 508.4 367.4 C509.2 367.5 509.7 367.6 510.0 367.7" fill="none" stroke="#1c1c1c" stroke-width="1.25"/>
<path d="M313.4 348.4 C313.9 348.0 315.4 346.8 316.4 346.0 C317.4 345.2 318.4 344.4 319.4 343.7 C320.4 343.0 321.4 342.3 322.4 341.6 C323.4 340.9 324.4 340.2 325.4 339.6 C326.4 338.9 327.4 338.3 328.4 337.7 C329.4 337.1 330.4 336.6 331.4 336.0 C332.4 335.5 333.4 335.0 334.4 334.5 C335.4 334.0 336.4 333.5 337.4 333.1 C338.4 332.6 339.4 332.2 340.4 331.8 C341.4 331.4 342.4 331.1 343.4 330.7 C344.4 330.4 345.4 330.0 346.4 329.8 C347.4 329.5 348.4 329.2 349.4 328.9 C350.4 328.7 351.4 328.5 352.4 328.3 C353.4 328.1 354.4 327.9 355.4 327.8 C356.4 327.6 357.4 327.5 358.4 327.4 C359.4 327.3 360.4 327.2 361.4 327.2 C362.4 327.2 363.4 327.1 364.4 327.2 C365.4 327.2 366.4 327.2 367.4 327.3 C368.4 327.3 369.4 327.4 370.4 327.5 C371.4 327.6 372.4 327.8 373.4 327.9 C374.4 328.1 375.4 328.3 376.4 328.5 C377.4 328.7 378.4 328.9 379.4 329.1 C380.4 329.4 381.4 329.6 382.4 329.9 C383.4 330.2 384.4 330.5 385.4 330.8 C386.4 331.2 387.4 331.5 388.4 331.8 C389.4 332.2 390.4 332.6 391.4 333.0 C392.4 333.3 393.4 333.7 394.4 334.1 C395.4 334.5 396.4 335.0 397.4 335.4 C398.4 335.8 399.4 336.3 400.4 336.7 C401.4 337.2 402.4 337.6 403.4 338.1 C404.4 338.5 405.4 339.0 406.4 339.5 C407.4 340.0 408.4 340.5 409.4 340.9 C410.4 341.4 411.4 341.9 412.4 342.4 C413.4 342.9 414.4 343.4 415.4 343.9 C416.4 344.4 417.4 344.9 418.4 345.4 C419.4 345.9 420.4 346.4 421.4 346.9 C422.4 347.4 423.4 347.9 424.4 348.5 C425.4 349.0 426.4 349.5 427.4 350.0 C428.4 350.5 429.4 350.9 430.4 351.4 C431.4 351.9 432.4 352.4 433.4 352.9 C434.4 353.4 435.4 353.9 436.4 354.3 C437.4 354.8 438.4 355.3 439.4 355.7 C440.4 356.2 441.4 356.6 442.4 357.1 C443.4 357.5 444.4 357.9 445.4 358.4 C446.4 358.8 447.4 359.2 448.4 359.6 C449.4 360.0 450.4 360.4 451.4 360.8 C452.4 361.1 453.4 361.5 454.4 361.9 C455.4 362.2 456.4 362.6 457.4 362.9 C458.4 363.2 459.4 363.5 460.4 363.8 C461.4 364.1 462.4 364.4 463.4 364.7 C464.4 365.0 465.4 365.2 466.4 365.5 C467.4 365.7 468.4 366.0 469.4 366.2 C470.4 366.4 471.4 366.7 472.4 366.9 C473.4 367.1 474.4 367.3 475.4 367.5 C476.4 367.7 477.4 367.8 478.4 368.0 C479.4 368.2 480.4 368.3 481.4 368.5 C482.4 368.7 483.4 368.8 484.4 368.9 C485.4 369.1 486.4 369.2 487.4 369.3 C488.4 369.4 489.4 369.6 490.4 369.7 C491.4 369.8 492.4 369.9 493.4 370.0 C494.4 370.0 495.4 370.1 496.4 370.2 C497.4 370.3 498.4 370.4 499.4 370.4 C500.4 370.5 501.4 370.6 502.4 370.6 C503.4 370.7 504.4 370.7 505.4 370.8 C506.4 370.8 507.6 370.9 508.4 370.9 C509.2 370.9 509.7 370.9 510.0 371.0" fill="none" stroke="#1c1c1c" stroke-width="1.25" stroke-dasharray="6.8 2.5"/>
<text x="410.0" y="304.5" font-size="10.8" text-anchor="middle">FA</text>
<text x="494.9" y="356.9" font-size="10.8" text-anchor="middle">IA</text>
</g>
</svg>
</body></html>
